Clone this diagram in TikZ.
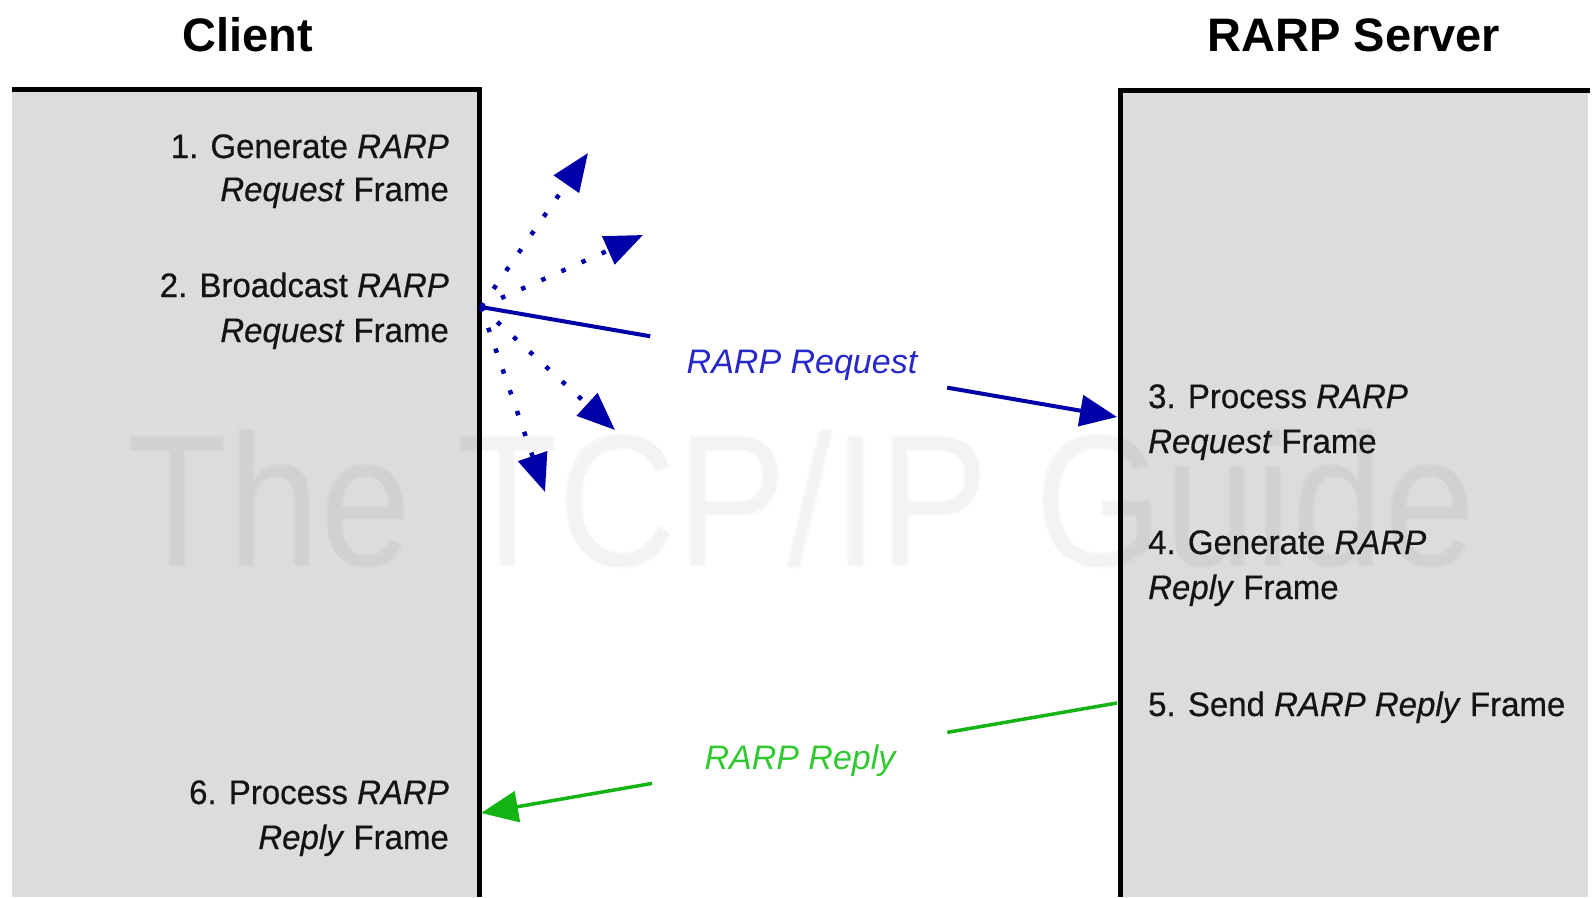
\documentclass[tikz,border=0pt]{standalone}
\usepackage{fontspec}
\setmainfont{Liberation Sans}
\newfontfamily\stepfam{Liberation Sans}[FakeBold=0.5,FakeStretch=0.97]
\usetikzlibrary{arrows.meta,calc}

\definecolor{boxgray}{RGB}{220,220,220}
\definecolor{reqblue}{RGB}{0,0,168}
\definecolor{reqtext}{RGB}{40,40,200}
\definecolor{replygreen}{RGB}{20,180,20}
\definecolor{replytext}{RGB}{50,200,50}

\newcommand{\stepfont}{\stepfam\fontsize{34}{40}\selectfont}
\newcommand{\labelfont}{\fontsize{34}{40}\selectfont\itshape}
\newcommand{\headfont}{\fontsize{47}{52}\selectfont\bfseries}
\newcommand{\markfont}{\fontsize{165}{165}\selectfont}

\tikzset{
  border/.style={line width=5pt, line cap=butt, line join=miter},
  heading/.style={anchor=base, font=\headfont, inner sep=0pt},
  stepright/.style={anchor=base east, font=\stepfont, inner sep=0pt, text=black!92},
  stepleft/.style={anchor=base west, font=\stepfont, inner sep=0pt, text=black!92},
  bigtip/.style={-{Triangle[length=37pt,width=31pt]}},
  reqline/.style={draw=reqblue, line width=4pt},
  replyline/.style={draw=replygreen, line width=3.5pt},
  bcast/.style={draw=reqblue, line width=4.5pt, dash pattern=on 4.5pt off 17.5pt,
                -{Triangle[length=38pt,width=30pt]}},
  reqlabel/.style={font=\labelfont, text=reqtext, inner sep=0pt},
  replylabel/.style={font=\labelfont, text=replytext, inner sep=0pt},
  wmark/.style={anchor=base, font=\markfont, inner sep=0pt, text=black}
}

\begin{document}
\begin{tikzpicture}[x=1pt,y=-1pt]
\useasboundingbox (0,0) rectangle (1593,897);
\fill[white] (0,0) rectangle (1593,897);

% host panels
\fill[boxgray] (12,89) rectangle (479,897);
\fill[boxgray] (1120,90) rectangle (1588,897);

% faint embossed watermark
\node[wmark, text opacity=0.015] (wm-a) at (803,567) {\scalebox{1}[1.14]{The TCP/IP Guide}};
\node[wmark, text opacity=0.03] (wm-b) at (801,565) {\scalebox{1}[1.14]{The TCP/IP Guide}};

% panel borders
\draw[border] (12,89) -- (479,89) -- (479,897);
\draw[border] (1120,897) -- (1120,90) -- (1590,90);

% headings
\node[heading] (client) at (248,51) {Client};
\node[heading] (server) at (1354,51) {RARP Server};

% client steps
\node[stepright] (s1a) at (449,158) {1. Generate \textit{RARP}};
\node[stepright] (s1b) at (449,201) {\textit{Request} Frame};
\node[stepright] (s2a) at (449,297) {2. Broadcast \textit{RARP}};
\node[stepright] (s2b) at (449,342) {\textit{Request} Frame};
\node[stepright] (s6a) at (449,804) {6. Process \textit{RARP}};
\node[stepright] (s6b) at (449,849) {\textit{Reply} Frame};

% server steps
\node[stepleft] (s3a) at (1148,408) {3. Process \textit{RARP}};
\node[stepleft] (s3b) at (1148,453) {\textit{Request} Frame};
\node[stepleft] (s4a) at (1148,554) {4. Generate \textit{RARP}};
\node[stepleft] (s4b) at (1148,599) {\textit{Reply} Frame};
\node[stepleft] (s5)  at (1148,716) {5. Send \textit{RARP Reply} Frame};

% connector end points on the panel edges
\coordinate (reqS) at (481,307);
\coordinate (reqT) at (1117,417);
\coordinate (repS) at (1117,703);
\coordinate (repT) at (481,813);

% broadcast fan-out
\coordinate (b1) at (588,153);
\coordinate (b2) at (643,235);
\coordinate (b3) at (615,430);
\coordinate (b4) at (545,492);
\foreach \b in {b1,b2,b3,b4} \draw[bcast] (reqS) -- (\b);

% request to the server
\draw[reqline] (reqS) -- ($(reqS)!0.266!(reqT)$);
\draw[reqline, bigtip] ($(reqS)!0.733!(reqT)$) -- (reqT);
\node[reqlabel] (reqlbl) at ($(reqS)!0.5!(reqT)+(3,3)$) {RARP Request};

% reply to the client
\draw[replyline] (repS) -- ($(repS)!0.267!(repT)$);
\draw[replyline, bigtip] ($(repS)!0.731!(repT)$) -- (repT);
\node[replylabel] (replbl) at ($(repS)!0.5!(repT)+(1,3)$) {RARP Reply};
\end{tikzpicture}
\end{document}
